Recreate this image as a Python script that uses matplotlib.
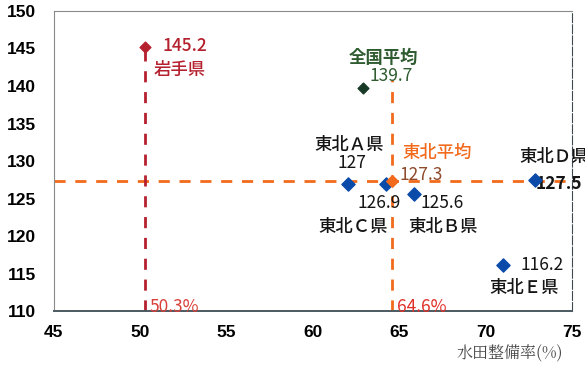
import matplotlib.pyplot as plt
import numpy as np

plt.rcParams['font.family'] = ['Noto Sans CJK JP', 'DejaVu Sans']

# data
names = ["東北Ａ県", "東北Ｂ県", "東北Ｃ県", "東北Ｄ県", "東北Ｅ県"]
pref_x = [62.0, 65.85, 64.2, 72.85, 71.0]
pref_y = [127.0, 125.6, 126.9, 127.5, 116.2]
pref_lbl = ["127", "125.6", "126.9", "127.5", "116.2"]

iwate_x, iwate_y = 50.3, 145.2
nation_x, nation_y = 62.9, 139.7
tohoku_x, tohoku_y = 64.6, 127.3

x_ticks = [45, 50, 55, 60, 65, 70, 75]
y_ticks = [110, 115, 120, 125, 130, 135, 140, 145, 150]

red = "#B5202E"
orange = "#F26A1B"
green = "#2F5B30"
blue = "#0A4BAA"
ink = "#151515"

fig = plt.figure(figsize=(5.85, 3.66), dpi=100)
ax = fig.add_axes([0.092, 0.150, 0.886, 0.820])
ax.set_xlim(45, 75)
ax.set_ylim(110, 150)

# reference lines
dash = (0, (4, 3.5))
ax.plot([45, 75], [tohoku_y, tohoku_y], color=orange, lw=2, ls=dash, zorder=2)
ax.plot([tohoku_x, tohoku_x], [110, 140.8], color=orange, lw=2, ls=dash, zorder=2)
ax.plot([iwate_x, iwate_x], [110, iwate_y], color=red, lw=2, ls=dash, zorder=2)

# points
ax.scatter(pref_x, pref_y, marker="D", s=45, color=blue, zorder=4)
ax.scatter([iwate_x], [iwate_y], marker="D", s=30, color=red, zorder=4)
ax.scatter([nation_x], [nation_y], marker="D", s=30, color="#173A26", zorder=4)
ax.scatter([tohoku_x], [tohoku_y], marker="D", s=35, color=orange, zorder=4)

fs = 12.5
kw = dict(fontsize=fs, va="center")
nm = "medium"
# Iwate
ax.text(51.3, 145.3, "145.2", color=red, ha="left", weight=nm, **kw)
ax.text(50.8, 142.1, "岩手県", color=red, ha="left", weight=nm, **kw)
# national avg
ax.text(64.1, 143.7, "全国平均", color=green, ha="center", weight="bold", **kw)
ax.text(63.3, 141.3, "139.7", color=green, ha="left", **kw)
# Tohoku avg
ax.text(67.2, 131.1, "東北平均", color=orange, ha="center", weight=nm, **kw)
ax.text(65.0, 128.1, "127.3", color="#8E4A2A", ha="left", **kw)
# prefectures
ax.text(62.1, 132.1, names[0], color=ink, ha="center", weight=nm, **kw)
ax.text(62.25, 129.7, pref_lbl[0], color=ink, ha="center", **kw)
ax.text(62.6, 124.4, pref_lbl[2], color=ink, ha="left", **kw)
ax.text(62.35, 121.2, names[2], color=ink, ha="center", weight=nm, **kw)
ax.text(66.2, 124.4, pref_lbl[1], color=ink, ha="left", **kw)
ax.text(67.55, 121.2, names[1], color=ink, ha="center", weight=nm, **kw)
ax.text(71.95, 130.5, names[3], color=ink, ha="left", weight=nm, **kw)
ax.text(72.9, 127.0, pref_lbl[3], color=ink, ha="left", weight="bold", **kw)
ax.text(72.0, 116.1, pref_lbl[4], color=ink, ha="left", style="italic", **kw)
ax.text(72.25, 113.1, names[4], color=ink, ha="center", weight=nm, **kw)
# percentages at the bottom
ax.text(50.56, 110.5, "50.3%", color="#D9403A", ha="left", **kw)
ax.text(64.86, 110.5, "64.6%", color="#E0302A", ha="left", **kw)

ax.set_xticks(x_ticks)
ax.set_yticks(y_ticks)
ax.tick_params(axis="y", length=0, labelsize=12.5, pad=13)
ax.tick_params(axis="x", length=0, labelsize=12.5, pad=10)
for lab in ax.get_xticklabels() + ax.get_yticklabels():
    lab.set_fontweight("bold")
    lab.set_family(["Liberation Sans", "DejaVu Sans"])

for side in ["top", "left"]:
    ax.spines[side].set_color("#8A8A8A")
ax.spines["bottom"].set_color("#4A5A60")
ax.spines["bottom"].set_linewidth(1.4)
ax.spines["right"].set_color("#3F4A50")
ax.spines["right"].set_linestyle((0, (8, 2)))

fig.text(0.963, 0.035, "水田整備率(%)", ha="right", va="center", fontsize=11.5,
         color="#444444", family=["Noto Serif CJK JP", "Noto Sans CJK JP", "DejaVu Sans"])

fig.savefig("out.png", dpi=100)
